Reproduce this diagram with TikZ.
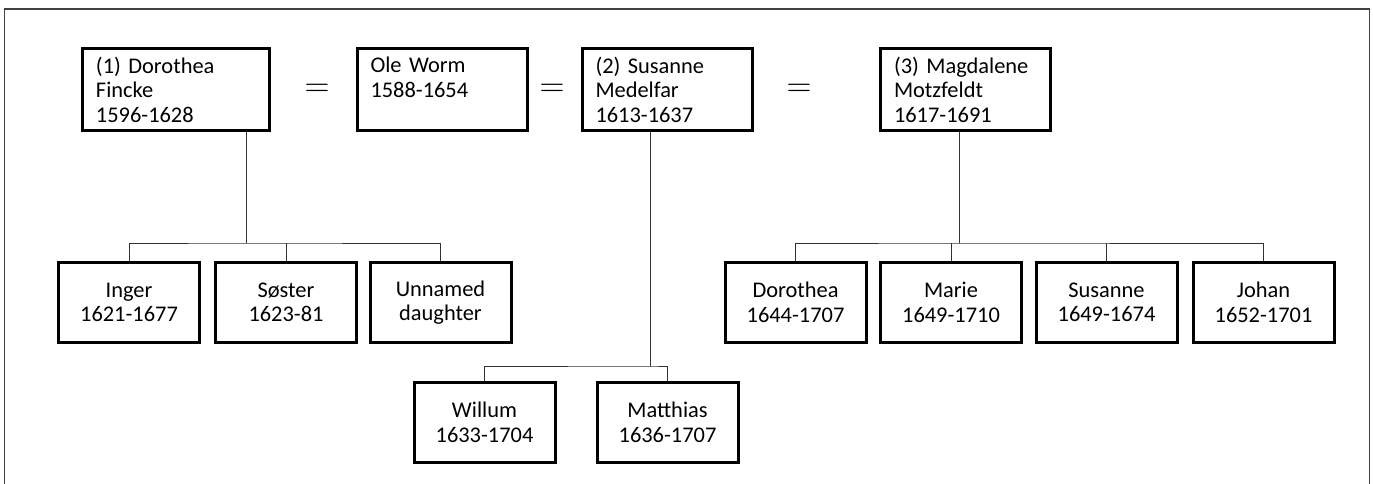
\documentclass[tikz,border=0pt]{standalone}
\usepackage{fontspec}
\setmainfont{Carlito}
\usepackage{tikz}
\tikzset{person/.style = {draw, line width=1.5pt, inner sep=0pt,
                          font=\fontsize{11.2}{12.25}\selectfont},
         parent/.style = {person, align=left, inner xsep=6.75pt, minimum height=41pt},
         child/.style = {person, align=center, minimum width=70.5pt, minimum height=40pt},
         kin/.style = {black!80, line width=0.5pt},
         wed/.style = {font=\fontsize{18}{18}\selectfont}}

\begin{document}
\begin{tikzpicture}[x=0.5pt, y=0.5pt]
    \useasboundingbox (0, 0) rectangle (1373, -483);
    \draw [black!75, line width=0.8pt] (4.5, -495) -- (4.5, -9) -- (1369.5, -9) -- (1369.5, -495);

    \begin{scope}
      \node [parent, text width=80pt] (fincke) at (176, -89.5) {(1) Dorothea\\Fincke\\1596-1628};
      \node [parent, text width=71.5pt] (worm) at (442, -89.5) {Ole Worm\\1588-1654\\\mbox{}};
      \node [parent, text width=71.5pt] (medelfar) at (667, -89.5) {(2) Susanne\\Medelfar\\1613-1637};
      \node [parent, text width=71.5pt] (motzfeldt) at (965.5, -89.5) {(3) Magdalene\\Motzfeldt\\1617-1691};
      \node [wed] (wed1) at (317, -90) {$=$};
      \node [wed] (wed2) at (552, -90) {$=$};
      \node [wed] (wed3) at (799, -90) {$=$};
    \end{scope}

    \begin{scope}
      \node [child] (inger) at (129, -302.5) {Inger\\1621-1677};
      \node [child] (soster) at (286, -302.5) {Søster\\1623-81};
      \node [child] (unnamed) at (440.5, -302.5) {Unnamed\\daughter};
      \coordinate (fork1) at (246, -243);
      \draw [kin] (fincke.south -| fork1) -- (fork1);
      \draw [kin] (inger.north) |- (fork1) -| (unnamed.north);
      \draw [kin] (soster.north) -- (soster.north |- fork1);
    \end{scope}

    \begin{scope}
      \node [child] (willum) at (484.5, -422.5) {Willum\\1633-1704};
      \node [child] (matthias) at (667.5, -422.5) {Matthias\\1636-1707};
      \coordinate (fork2) at (650, -366);
      \draw [kin] (medelfar.south -| fork2) -- (fork2);
      \draw [kin] (willum.north) |- (fork2) -| (matthias.north);
    \end{scope}

    \begin{scope}
      \node [child] (dorothea) at (795.5, -302.5) {Dorothea\\1644-1707};
      \node [child] (marie) at (951, -302.5) {Marie\\1649-1710};
      \node [child] (susanne) at (1106.5, -302.5) {Susanne\\1649-1674};
      \node [child] (johan) at (1263.5, -302.5) {Johan\\1652-1701};
      \coordinate (fork3) at (959.5, -243);
      \draw [kin] (motzfeldt.south -| fork3) -- (fork3);
      \draw [kin] (dorothea.north) |- (fork3) -| (johan.north);
      \draw [kin] (marie.north) -- (marie.north |- fork3);
      \draw [kin] (susanne.north) -- (susanne.north |- fork3);
    \end{scope}
  \end{tikzpicture}
\end{document}
